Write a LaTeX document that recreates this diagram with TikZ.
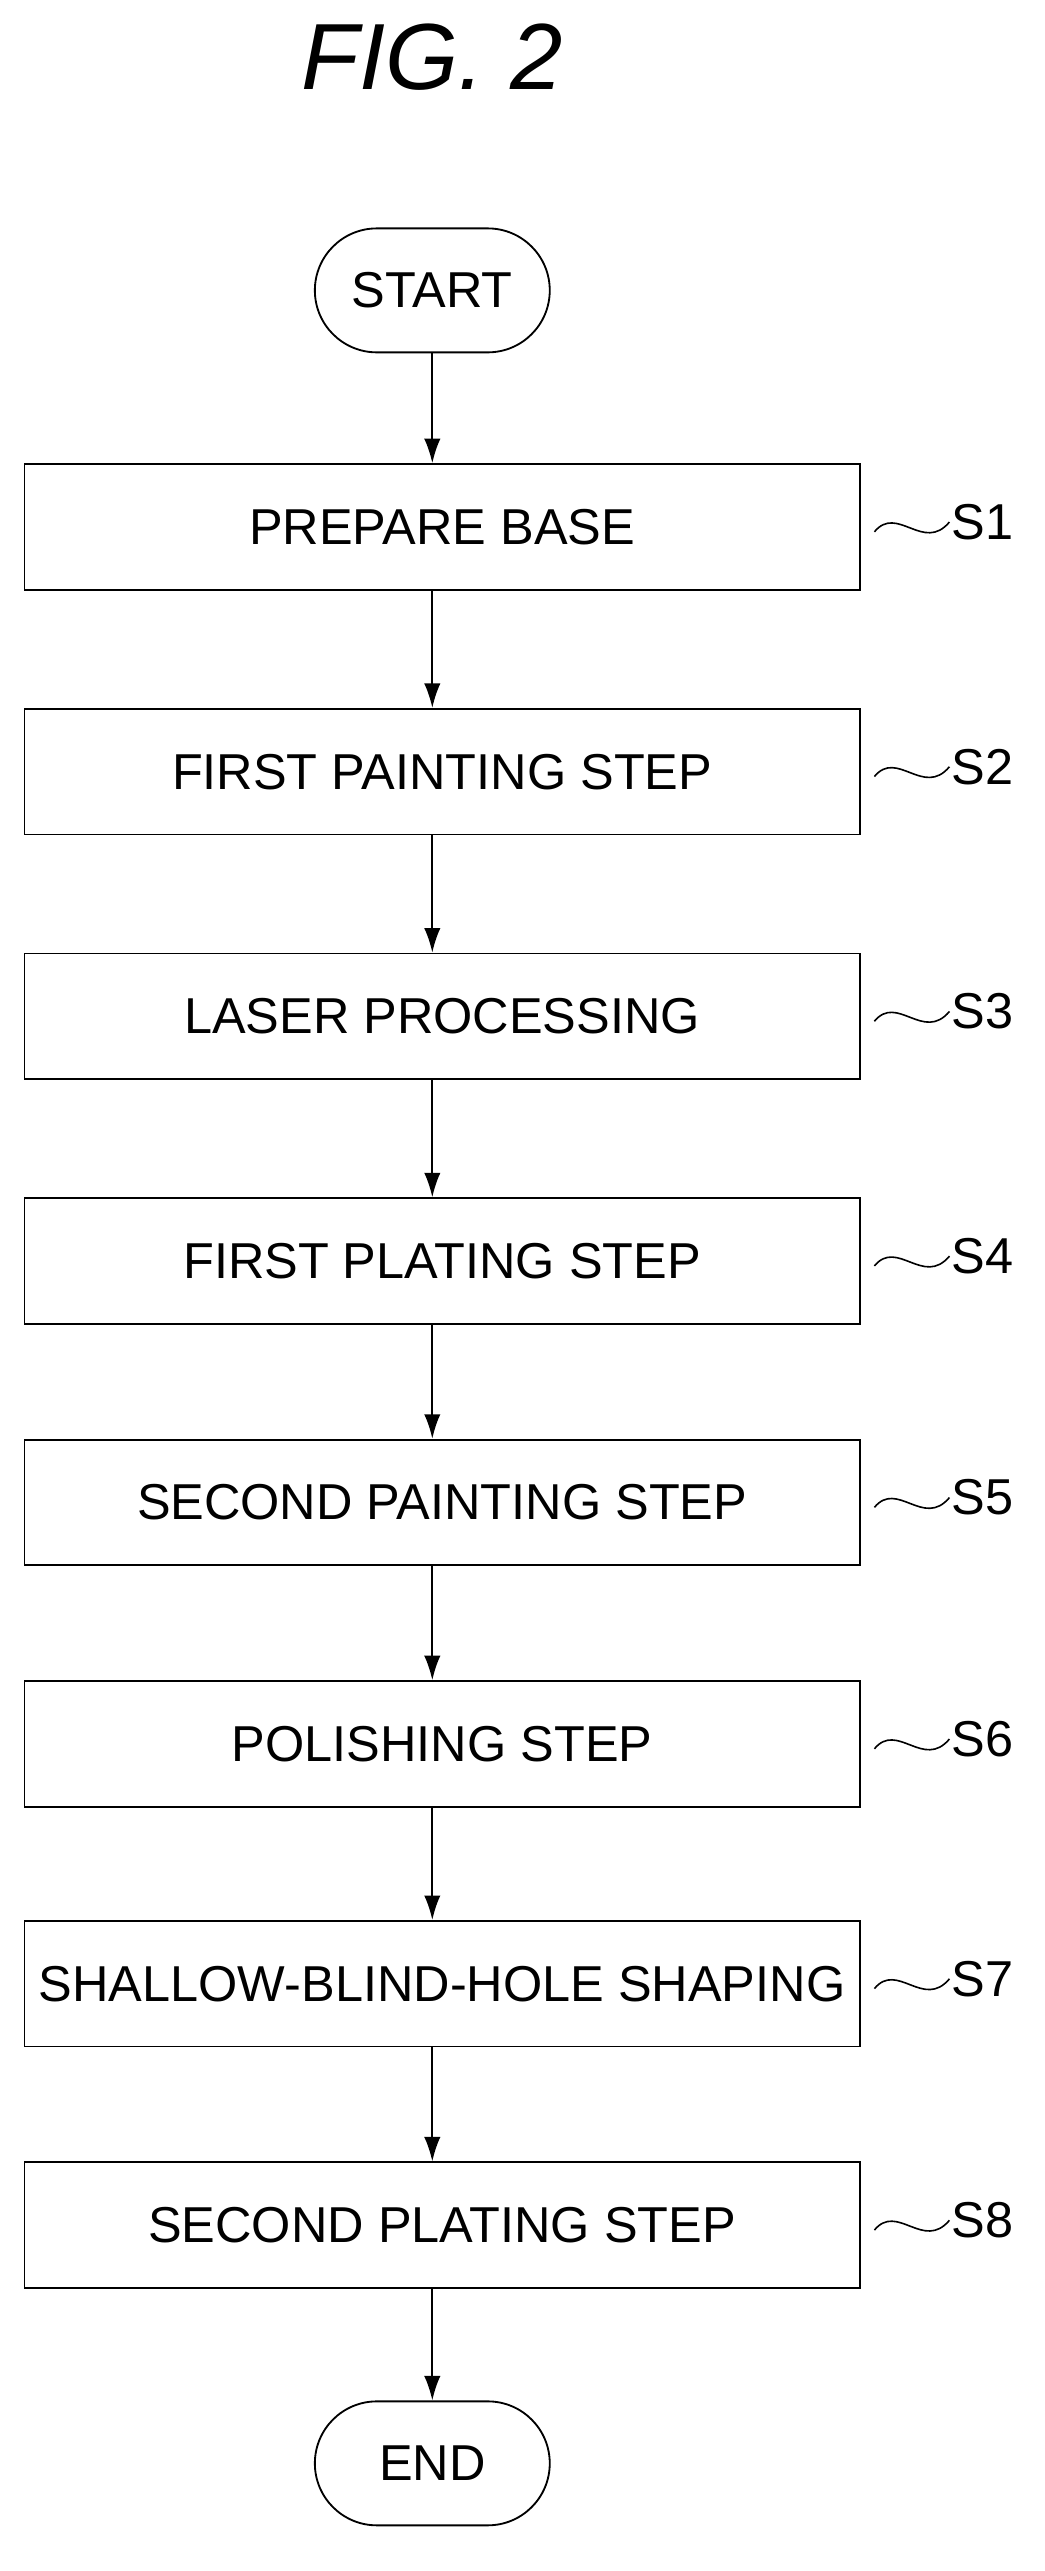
\documentclass[tikz,border=0pt]{standalone}
\usepackage{fontspec}
\setmainfont{Liberation Sans}
\usetikzlibrary{arrows.meta}
\begin{document}
\begin{tikzpicture}[x=0.05cm,y=-0.05cm,
  box/.style={draw,line width=1.6pt,minimum width=25.6cm,minimum height=3.85cm,inner sep=0pt,font=\fontsize{44}{52}\selectfont},
  term/.style={draw,line width=1.6pt,rounded corners=1.9cm,minimum width=7.2cm,minimum height=3.8cm,font=\fontsize{44}{52}\selectfont},
  arr/.style={line width=1.6pt,-{Latex[length=0.75cm,width=0.5cm]}},
  lab/.style={font=\fontsize{44}{52}\selectfont,anchor=west}]
\useasboundingbox (0,0) rectangle (640,1576);
\node[font=\fontsize{82}{90}\selectfont\itshape] (title) at (265,35) {FIG. 2};
\node[term] (start) at (265,178) {START};
\foreach \i/\y/\t in {1/323/PREPARE BASE,2/473/FIRST PAINTING STEP,3/623/LASER PROCESSING,4/773/FIRST PLATING STEP,5/921/SECOND PAINTING STEP,6/1069/POLISHING STEP,7/1216/SHALLOW-BLIND-HOLE SHAPING,8/1364/SECOND PLATING STEP}{
  \node[box] (s\i) at (271,\y) {\t};
  \coordinate (w\i a) at (536,\y+3);
  \coordinate (w\i b) at (582,\y-3);
  \draw[line width=1.4pt] (w\i a) .. controls (550,\y-14) and (566,\y+16) .. (w\i b);
  \node[lab] (l\i) at (581,\y-3) {S\i};
}
\node[term] (end) at (265,1510) {END};
\draw[arr] (start) -- (start |- s1.north);
\foreach \a/\b in {1/2,2/3,3/4,4/5,5/6,6/7,7/8}{\draw[arr] (s\a.south -| start) -- (s\b.north -| start);}
\draw[arr] (s8.south -| start) -- (end);
\end{tikzpicture}
\end{document}
